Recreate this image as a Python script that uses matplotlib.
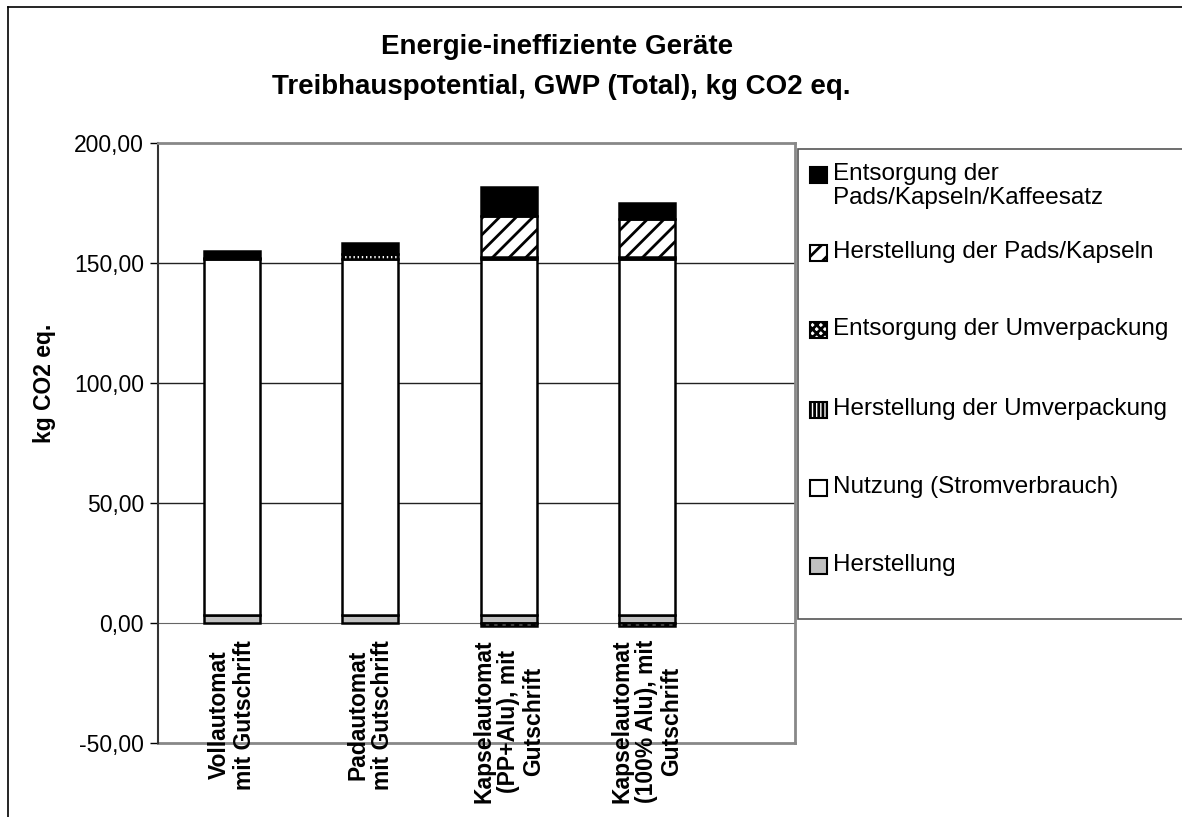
import numpy as np
import matplotlib.pyplot as plt
from matplotlib.patches import Rectangle
from matplotlib.lines import Line2D
from matplotlib.ticker import FuncFormatter

plt.rcParams['font.family'] = ['Liberation Sans', 'DejaVu Sans']
plt.rcParams['hatch.linewidth'] = 2.0

# Daten
categories = ['Vollautomat\nmit Gutschrift', 'Padautomat\nmit Gutschrift',
              'Kapselautomat\n(PP+Alu), mit\nGutschrift',
              'Kapselautomat\n(100% Alu), mit\nGutschrift']
herstellung = [3.2, 3.2, 3.2, 3.2]
nutzung = [148.5, 148.5, 148.5, 148.5]
herst_umverpackung = [0.4, 2.0, 1.0, 1.0]
entsorg_umverpackung = [0.0, 0.0, -1.3, -1.3]
herst_pads = [0.0, 0.0, 16.9, 15.5]
entsorg_pads = [3.0, 4.5, 11.9, 6.7]

labels = ['Herstellung', 'Nutzung (Stromverbrauch)', 'Herstellung der Umverpackung',
          'Entsorgung der Umverpackung', 'Herstellung der Pads/Kapseln',
          'Entsorgung der\nPads/Kapseln/Kaffeesatz']
series = [herstellung, nutzung, herst_umverpackung, entsorg_umverpackung,
          herst_pads, entsorg_pads]
faces = ['#c0c0c0', 'white', 'white', 'white', 'white', 'black']
hatches = [None, None, '||||', 'xxxx', '//', None]

W, H = 1182, 817
fig = plt.figure(figsize=(W / 100, H / 100), dpi=100)
ax = fig.add_axes([158 / W, 1 - 743 / H, (795 - 158) / W, (743 - 143) / H])


def px(x, y):
    return x / W, 1 - y / H


x = np.arange(len(categories))
pos_bottom = np.zeros(len(categories))
neg_bottom = np.zeros(len(categories))
for vals, fc, hatch in zip(series, faces, hatches):
    vals = np.array(vals)
    bottom = np.where(vals >= 0, pos_bottom, neg_bottom)
    ax.bar(x, vals, 0.404, bottom=bottom, color=fc, edgecolor='black',
           linewidth=1.8, hatch=hatch, zorder=3)
    pos_bottom += np.where(vals >= 0, vals, 0)
    neg_bottom += np.where(vals < 0, vals, 0)

ax.set_xlim(-0.535, 4.07)
ax.set_ylim(-50, 200)
ax.set_yticks([-50, 0, 50, 100, 150, 200])
ax.yaxis.set_major_formatter(FuncFormatter(lambda v, p: f'{v:.2f}'.replace('.', ',')))
ax.tick_params(axis='y', labelsize=16.5, length=6, width=1, direction='out', pad=4)
for yv in [50, 100, 150]:
    ax.axhline(yv, color='#222222', linewidth=1, zorder=1)
ax.axhline(-50, color='#888888', linewidth=2, zorder=1, clip_on=False)

ax.spines['bottom'].set_position(('data', 0))
ax.spines['bottom'].set_color('#666666')
ax.spines['bottom'].set_zorder(2)
for s in ['top', 'right']:
    ax.spines[s].set_color('#888888')
    ax.spines[s].set_linewidth(2)
ax.spines['left'].set_color('#333333')
ax.spines['left'].set_linewidth(1.5)

ax.set_xticks(x)
ax.set_xticklabels(categories, rotation=90, fontsize=16.5, fontweight='bold',
                   linespacing=1.1)
for lbl in ax.get_xticklabels():
    lbl.set_multialignment('center')
ax.tick_params(axis='x', length=0, pad=12)

# Achsentitel und Titel
fig.text(*px(45, 383), 'kg CO2 eq.', rotation=90, fontsize=16.5, fontweight='bold',
         ha='center', va='center')
fig.text(*px(557, 47), 'Energie-ineffiziente Geräte', fontsize=20, fontweight='bold',
         ha='center', va='center')
fig.text(*px(561, 87), 'Treibhauspotential, GWP (Total), kg CO2 eq.', fontsize=20,
         fontweight='bold', ha='center', va='center')

# Legende
x0, y0 = px(798, 619)
x1, y1 = px(1190, 149)
fig.add_artist(Rectangle((x0, y0), x1 - x0, y1 - y0, transform=fig.transFigure,
                         facecolor='white', edgecolor='#555555', linewidth=1.2))
entry_y = [566, 488, 410, 330, 253, 175]
for lab, fc, hatch, yc in zip(labels, faces, hatches, entry_y):
    bx, by = px(810, yc + 8)
    fig.add_artist(Rectangle((bx, by), 17 / W, 16 / H, transform=fig.transFigure,
                             facecolor=fc, edgecolor='black', linewidth=1.5,
                             hatch=hatch))
    tx, ty = px(833, yc - 12)
    fig.text(tx, ty, lab, fontsize=17.5, ha='left', va='top', linespacing=1.1)

# Rahmen
fig.add_artist(Line2D([8 / W, 8 / W], [0, 1 - 7 / H], transform=fig.transFigure,
                      color='black', linewidth=1.2))
fig.add_artist(Line2D([8 / W, 1], [1 - 7 / H, 1 - 7 / H], transform=fig.transFigure,
                      color='black', linewidth=1.2))

fig.savefig('out.png', dpi=100)
